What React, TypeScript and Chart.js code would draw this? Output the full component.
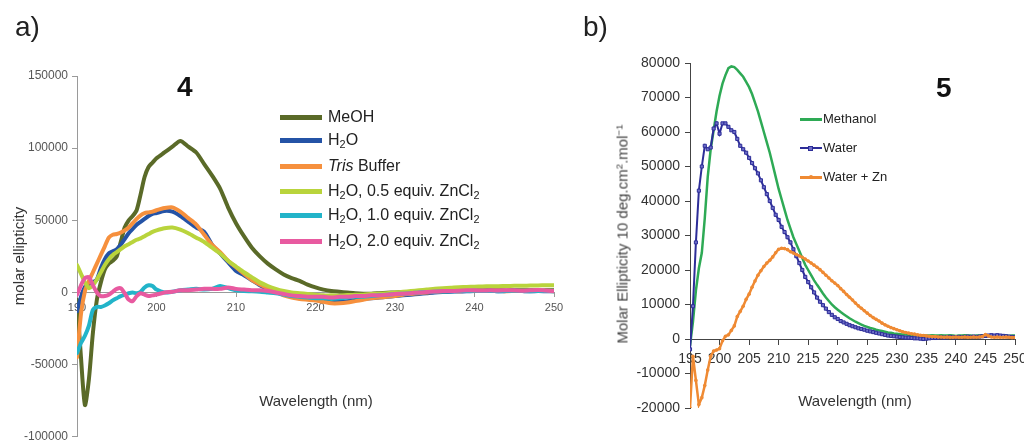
import React, { useEffect, useRef } from "react";
import { Chart, registerables } from "chart.js";

Chart.register(...registerables);

const FONT = '"Liberation Sans", Arial, Helvetica, sans-serif';

// ---------- Panel a) compound 4 ----------
const wavelengthsA = [
  190, 190.5, 191, 191.5, 192, 192.5, 193, 193.5, 194, 194.5, 195, 195.5, 196, 196.5, 197, 197.5, 198, 198.5, 199, 199.5, 200,
  201, 202, 203, 204, 205, 206, 207, 208, 209, 210,
  211, 212, 213, 214, 215, 216, 217, 218, 219, 220,
  221, 222, 223, 224, 225, 226, 227, 228, 229, 230,
  231, 232, 233, 234, 235, 236, 237, 238, 239, 240,
  241, 242, 243, 244, 245, 246, 247, 248, 249, 250,
];

const meohA = [
  -5000, -45000, -78000, -60000, -28000, -5000, 7000, 16000, 20000, 22000, 25000, 35000, 45000, 50000, 53000, 57000, 68000, 80000, 87000, 90000, 93000,
  97000, 101000, 105000, 101000, 97000, 89000, 81000, 72000, 59000, 48000,
  39000, 31000, 25000, 20000, 16000, 12500, 10000, 8000, 5500, 3500,
  2000, 1000, 500, 0, -500, -800, -800, -500, -200, 0,
  200, 300, 500, 700, 900, 1000, 1200, 1300, 1400, 1500,
  1500, 1600, 1500, 1400, 1500, 1600, 1500, 1400, 1500, 1500,
];

const waterA = [
  -13000, -3000, 4000, 6000, 7000, 9000, 17000, 23000, 27000, 28500, 30000, 33000, 37000, 41000, 44000, 47000, 49000, 51000, 53000, 54500, 55000,
  56500, 56000, 53000, 49000, 45000, 42000, 33000, 27000, 21000, 15000,
  12000, 8500, 5000, 2500, 800, -1500, -3000, -4000, -4500, -5000,
  -6000, -6500, -6500, -6000, -5000, -4500, -4000, -3500, -3000, -2500,
  -2000, -1500, -1000, -500, 0, 300, 500, 700, 800, 1000,
  1000, 1200, 800, 1000, 1200, 1000, 800, 1000, 900, 800,
];

const trisA = [
  -45000, -15000, 1000, 8000, 14000, 20000, 26000, 32000, 38000, 40000, 40500, 41500, 43000, 45000, 48000, 51000, 53500, 55000, 55500, 56000, 57000,
  58500, 59000, 56000, 51500, 47000, 40000, 33000, 28000, 22000, 17500,
  13000, 8500, 5500, 3000, 500, -2000, -3500, -4500, -5000, -5500,
  -6500, -7500, -7500, -7000, -6000, -5000, -4000, -3500, -3000, -2500,
  -1500, -1000, -500, 0, 500, 800, 1000, 900, 1100, 1200,
  1000, 1100, 1200, 900, 1000, 1100, 1000, 1200, 1000, 900,
];

const zn05A = [
  19000, 13000, 7000, 3000, 5000, 9000, 14000, 19000, 23000, 26000, 28000, 30000, 32000, 33500, 35000, 36500, 37500, 39000, 40500, 42000, 43000,
  44500, 45000, 43500, 41000, 38000, 35000, 31000, 27000, 22000, 18000,
  14000, 10500, 7000, 4500, 2500, 1000, 0, -500, -1000, -1500,
  -2000, -2000, -2200, -1800, -1500, -1500, -1000, -800, -500, 0,
  500, 1000, 1500, 2000, 2600, 3000, 3300, 3700, 3800, 4000,
  4200, 4300, 4300, 4500, 4600, 4600, 4800, 4900, 5000, 5000,
];

const zn10A = [
  -42000, -35000, -30000, -23000, -12000, -10000, -10000, -9000, -7500, -5500, -4000, -2500, -1500, -500, 0, -500, 500, 3500, 5000, 4500, 2000,
  0, 500, 1500, 2000, 2500, 2000, 2500, 4500, 3000, 1500,
  1000, 800, 500, 0, -500, -1500, -2500, -3000, -3500, -4000,
  -4000, -4500, -4000, -3500, -3000, -3000, -2500, -2000, -1500, -1000,
  -800, -500, 0, 300, 500, 700, 800, 1000, 1000, 1200,
  1000, 1100, 900, 1000, 1200, 1000, 900, 1100, 1000, 900,
];

const zn20A = [
  -1500, 5000, 10000, 10500, 5000, 0, -2500, -2500, -1500, 500, 2500, 3000, -500, -5000, -6000, -2500, -500, -1500, -2500, -2000, -1500,
  0, 500, 1500, 1500, 2000, 2500, 2500, 2500, 3500, 2500,
  2000, 1500, 1500, 1000, 0, -1000, -2000, -2500, -3000, -3000,
  -3000, -3500, -3000, -3000, -2500, -2500, -2000, -2000, -1500, -1000,
  -800, -500, 0, 300, 600, 1000, 1000, 1200, 1500, 1500,
  1300, 1500, 1400, 1600, 1500, 1200, 1500, 1800, 1300, 1000,
];

const xTicksA = [190, 200, 210, 220, 230, 240, 250];
const yTicksA = [-100000, -50000, 0, 50000, 100000, 150000];

const seriesA = [
  { label: "MeOH", data: meohA, color: "#5a6a28" },
  { label: "H2O", data: waterA, color: "#2453a6" },
  { label: "Tris Buffer", data: trisA, color: "#f6903d" },
  { label: "H2O, 0.5 equiv. ZnCl2", data: zn05A, color: "#b9d43c" },
  { label: "H2O, 1.0 equiv. ZnCl2", data: zn10A, color: "#22b4c9" },
  { label: "H2O, 2.0 equiv. ZnCl2", data: zn20A, color: "#e85aa0" },
];

// ---------- Panel b) compound 5 ----------
const wavelengthsB = [
  195, 195.5, 196, 196.5, 197, 197.5, 198, 198.5, 199, 199.5,
  200, 200.5, 201, 201.5, 202, 202.5, 203, 203.5, 204, 204.5,
  205, 205.5, 206, 206.5, 207, 207.5, 208, 208.5, 209, 209.5,
  210, 210.5, 211, 211.5, 212, 212.5, 213, 213.5, 214, 214.5,
  215, 215.5, 216, 216.5, 217, 217.5, 218, 218.5, 219, 219.5,
  220, 220.5, 221, 221.5, 222, 222.5, 223, 223.5, 224, 224.5,
  225, 225.5, 226, 226.5, 227, 227.5, 228, 228.5, 229, 229.5,
  230, 230.5, 231, 231.5, 232, 232.5, 233, 233.5, 234, 234.5,
  235, 235.5, 236, 236.5, 237, 237.5, 238, 238.5, 239, 239.5,
  240, 240.5, 241, 241.5, 242, 242.5, 243, 243.5, 244, 244.5,
  245, 245.5, 246, 246.5, 247, 247.5, 248, 248.5, 249, 249.5,
  250,
];

const methanolB = [
  -2000, 5000, 14000, 20500, 25000, 35000, 47000, 55000, 60500, 66000,
  70500, 74000, 76500, 78500, 79000, 78800, 78000, 77000, 76000, 74500,
  73000, 71000, 68500, 66000, 63000, 60000, 57000, 54000, 50500, 47000,
  43500, 40500, 37500, 34500, 32000, 29500, 27500, 25500, 23500, 21500,
  20000, 18500, 17000, 15700, 14500, 13200, 12000, 11000, 10000, 9200,
  8500, 7800, 7200, 6600, 6000, 5500, 5000, 4600, 4200, 3800,
  3500, 3200, 3000, 2700, 2500, 2300, 2100, 1900, 1800, 1600,
  1500, 1400, 1300, 1300, 1200, 1200, 1100, 1100, 1000, 1000,
  1000, 1000, 1100, 1000, 1000, 1100, 1000, 1000, 1100, 1000,
  900, 1000, 1000, 1100, 1000, 1000, 900, 1000, 1000, 1100,
  1000, 1000, 1000, 900, 1000, 1000, 1100, 1000, 900, 1000,
  1000,
];

const waterB = [
  -3000, 9500, 28000, 43000, 50000, 56000, 55000, 55500, 61000, 62500,
  59500, 62500, 62500, 61500, 60500, 60000, 58000, 56000, 55000, 54000,
  52500, 51000, 49500, 48000, 46000, 44000, 42000, 40000, 38000, 36000,
  34500, 32500, 31000, 29500, 28000, 26000, 24000, 22000, 20000, 18000,
  16500, 15000, 13500, 12000, 10800, 9800, 8800, 7800, 7000, 6300,
  5800, 5200, 4800, 4400, 4000, 3700, 3400, 3100, 2900, 2700,
  2400, 2200, 2000, 1800, 1600, 1400, 1200, 1000, 900, 800,
  700, 600, 500, 400, 400, 300, 200, 200, 100, 0,
  100, 200, 300, 300, 400, 500, 400, 500, 600, 500,
  500, 600, 500, 600, 700, 600, 700, 600, 700, 800,
  900, 1000, 1100, 1000, 1100, 1000, 900, 800, 700, 600,
  500,
];

const waterZnB = [
  -20000, -5000, -12000, -19000, -17000, -13500, -9000, -5000, -3500, -3200,
  -2800, -500, 800, 1200, 2500, 3800, 6500, 8000, 9500, 11500,
  13000, 15000, 16800, 18500, 19800, 21000, 22000, 22800, 23800, 25000,
  26000, 26300, 26200, 25900, 25300, 24900, 24500, 24100, 23700, 23200,
  22600, 22000, 21400, 20800, 20100, 19300, 18500, 17700, 16900, 16200,
  15500, 14600, 13800, 12900, 12100, 11300, 10400, 9600, 8900, 8200,
  7500, 6800, 6200, 5700, 5200, 4600, 4100, 3700, 3300, 3000,
  2700, 2400, 2100, 1900, 1700, 1500, 1400, 1200, 1100, 1000,
  900, 800, 700, 700, 600, 600, 500, 600, 500, 500,
  600, 500, 500, 600, 500, 500, 600, 500, 600, 700,
  1300, 900, 600, 500, 600, 500, 500, 600, 500, 400,
  400,
];

const xTicksB = [195, 200, 205, 210, 215, 220, 225, 230, 235, 240, 245, 250];
const yTicksB = [-20000, -10000, 0, 10000, 20000, 30000, 40000, 50000, 60000, 70000, 80000];

const seriesB = [
  { label: "Methanol", data: methanolB, color: "#2eaa55", marker: "none" },
  { label: "Water", data: waterB, color: "#2d2d98", marker: "rect" },
  { label: "Water + Zn", data: waterZnB, color: "#ef8a33", marker: "circle" },
];

// ---------- chart configs ----------
function configA(): any {
  const step = yTicksA[1] - yTicksA[0];
  return {
    type: "line",
    data: {
      datasets: seriesA.map((s, i) => ({
        label: s.label,
        data: wavelengthsA.map((x, j) => ({ x, y: s.data[j] })),
        borderColor: s.color,
        backgroundColor: s.color,
        borderWidth: 4,
        pointRadius: 0,
        tension: 0.25,
        fill: false,
        borderCapStyle: "round",
        borderJoinStyle: "round",
        order: seriesA.length - i,
      })),
    },
    options: {
      responsive: false,
      animation: false,
      devicePixelRatio: 1,
      layout: { padding: { left: 0, top: 76, right: 16, bottom: 5 } },
      plugins: { legend: { display: false }, tooltip: { enabled: false } },
      scales: {
        x: {
          type: "linear",
          min: xTicksA[0],
          max: xTicksA[xTicksA.length - 1],
          position: { y: 0 },
          ticks: {
            stepSize: xTicksA[1] - xTicksA[0],
            color: "#555",
            font: { size: 11, family: FONT },
            padding: 5,
            maxRotation: 0,
          },
          grid: { drawOnChartArea: false, drawTicks: true, tickLength: 4, color: "#9a9a9a" },
          border: { color: "#9a9a9a", width: 1 },
        },
        y: {
          type: "linear",
          min: yTicksA[0],
          max: yTicksA[yTicksA.length - 1],
          ticks: {
            stepSize: step,
            color: "#555",
            font: { size: 12, family: FONT },
            padding: 4,
            callback: (v: any) => String(v),
          },
          grid: { drawOnChartArea: false, drawTicks: true, tickLength: 5, color: "#9a9a9a" },
          border: { color: "#9a9a9a", width: 1 },
          afterFit: (s: any) => {
            s.width = 77;
          },
        },
      },
    },
  };
}

function configB(): any {
  return {
    type: "line",
    data: {
      datasets: seriesB.map((s, i) => ({
        label: s.label,
        data: wavelengthsB.map((x, j) => ({ x, y: s.data[j] })),
        borderColor: s.color,
        backgroundColor: s.color,
        borderWidth: s.marker === "rect" ? 2 : 2.5,
        pointRadius: s.marker === "none" ? 0 : s.marker === "rect" ? 2.2 : 1.8,
        pointStyle: s.marker === "rect" ? "rect" : "circle",
        pointBackgroundColor: s.marker === "rect" ? "#6f6fc8" : s.color,
        pointBorderColor: s.color,
        pointBorderWidth: s.marker === "rect" ? 1 : 0,
        tension: 0,
        fill: false,
        order: seriesB.length - i,
      })),
    },
    options: {
      responsive: false,
      animation: false,
      devicePixelRatio: 1,
      layout: { padding: { left: 0, top: 63, right: 9, bottom: 40 } },
      plugins: { legend: { display: false }, tooltip: { enabled: false } },
      scales: {
        x: {
          type: "linear",
          min: xTicksB[0],
          max: xTicksB[xTicksB.length - 1],
          position: { y: 0 },
          ticks: {
            stepSize: xTicksB[1] - xTicksB[0],
            color: "#333",
            font: { size: 14, family: FONT },
            padding: 7,
            maxRotation: 0,
            autoSkip: false,
          },
          grid: { drawOnChartArea: false, drawTicks: true, tickLength: 5, color: "#444" },
          border: { color: "#444", width: 1 },
          afterFit: (s: any) => {
            s.paddingLeft = 0;
            s.paddingRight = 0;
          },
        },
        y: {
          type: "linear",
          min: yTicksB[0],
          max: yTicksB[yTicksB.length - 1],
          ticks: {
            stepSize: yTicksB[1] - yTicksB[0],
            color: "#333",
            font: { size: 14, family: FONT },
            padding: 5,
            autoSkip: false,
            callback: (v: any) => String(v),
          },
          grid: { drawOnChartArea: false, drawTicks: true, tickLength: 5, color: "#444" },
          border: { color: "#444", width: 1 },
          afterFit: (s: any) => {
            s.width = 120;
          },
        },
      },
    },
  };
}

// ---------- overlay text helpers ----------
const sub = (t: string) => (
  <sub style={{ fontSize: "0.68em", verticalAlign: "-0.3em", lineHeight: 0 }}>{t}</sub>
);
const sup = (t: string) => (
  <sup style={{ fontSize: "0.65em", verticalAlign: "0.55em", lineHeight: 0 }}>{t}</sup>
);

const legendTextA = [
  <>MeOH</>,
  <>H{sub("2")}O</>,
  <><i>Tris</i> Buffer</>,
  <>H{sub("2")}O, 0.5 equiv. ZnCl{sub("2")}</>,
  <>H{sub("2")}O, 1.0 equiv. ZnCl{sub("2")}</>,
  <>H{sub("2")}O, 2.0 equiv. ZnCl{sub("2")}</>,
];
const legendRowsA = [117, 140, 166, 191, 215, 241];
const legendRowsB = [119, 148, 177];

const abs = (extra: React.CSSProperties): React.CSSProperties => ({
  position: "absolute",
  whiteSpace: "nowrap",
  ...extra,
});

export default function App() {
  const refA = useRef<HTMLCanvasElement>(null);
  const refB = useRef<HTMLCanvasElement>(null);

  useEffect(() => {
    const a = new Chart(refA.current as HTMLCanvasElement, configA());
    const b = new Chart(refB.current as HTMLCanvasElement, configB());
    return () => {
      a.destroy();
      b.destroy();
    };
  }, []);

  return (
    <div
      style={{
        position: "fixed",
        left: 0,
        top: 0,
        width: 1024,
        height: 448,
        overflow: "hidden",
        background: "#fff",
        fontFamily: FONT,
        color: "#222",
      }}
    >
      <canvas ref={refA} width={570} height={448} style={abs({ left: 0, top: 0, width: 570, height: 448 })} />
      <canvas ref={refB} width={454} height={448} style={abs({ left: 570, top: 0, width: 454, height: 448 })} />

      {/* panel labels */}
      <div style={abs({ left: 15, top: 13, fontSize: 28, lineHeight: "28px" })}>a)</div>
      <div style={abs({ left: 583, top: 13, fontSize: 28, lineHeight: "28px" })}>b)</div>

      {/* compound numbers */}
      <div style={abs({ left: 177, top: 73, fontSize: 28, lineHeight: "28px", fontWeight: "bold", color: "#111" })}>4</div>
      <div style={abs({ left: 936, top: 74, fontSize: 28, lineHeight: "28px", fontWeight: "bold", color: "#111" })}>5</div>

      {/* axis titles */}
      <div
        style={abs({
          left: 18,
          top: 256,
          fontSize: 15,
          lineHeight: "15px",
          fontWeight: "normal",
          color: "#333",
          transform: "translate(-50%, -50%) rotate(-90deg)",
        })}
      >
        molar ellipticity
      </div>
      <div style={abs({ left: 316, top: 400, fontSize: 15, lineHeight: "15px", color: "#333", transform: "translate(-50%, -50%)" })}>
        Wavelength (nm)
      </div>
      <div
        style={abs({
          left: 622,
          top: 234,
          fontSize: 15,
          lineHeight: "15px",
          fontWeight: "normal",
          color: "#444",
          transform: "translate(-50%, -50%) rotate(-90deg)",
        })}
      >
        Molar Ellipticity 10 deg.cm{sup("2")}.mol{sup("\u22121")}
      </div>
      <div style={abs({ left: 855, top: 400, fontSize: 15, lineHeight: "15px", color: "#333", transform: "translate(-50%, -50%)" })}>
        Wavelength (nm)
      </div>

      {/* legend a */}
      {seriesA.map((s, i) => (
        <div key={s.label} style={abs({ left: 280, top: legendRowsA[i] - 10, height: 20, display: "flex", alignItems: "center" })}>
          <div style={{ width: 42, height: 5, background: s.color }} />
          <div style={{ marginLeft: 6, fontSize: 16, lineHeight: "20px", color: "#222" }}>{legendTextA[i]}</div>
        </div>
      ))}

      {/* legend b */}
      {seriesB.map((s, i) => (
        <div key={s.label} style={abs({ left: 800, top: legendRowsB[i] - 9, height: 18, display: "flex", alignItems: "center" })}>
          <div style={{ position: "relative", width: 22, height: 18 }}>
            <div style={{ position: "absolute", left: 0, top: 8, width: 22, height: s.marker === "rect" ? 2 : 2.5, background: s.color }} />
            {s.marker === "rect" && (
              <div
                style={{
                  position: "absolute",
                  left: 8,
                  top: 6.5,
                  width: 5,
                  height: 5,
                  boxSizing: "border-box",
                  background: "#6f6fc8",
                  border: `1px solid ${s.color}`,
                }}
              />
            )}
            {s.marker === "circle" && (
              <div
                style={{ position: "absolute", left: 9, top: 7.3, width: 4, height: 4, borderRadius: 2, background: s.color }}
              />
            )}
          </div>
          <div style={{ marginLeft: 1, fontSize: 13, lineHeight: "18px", color: "#222" }}>{s.label}</div>
        </div>
      ))}
    </div>
  );
}
